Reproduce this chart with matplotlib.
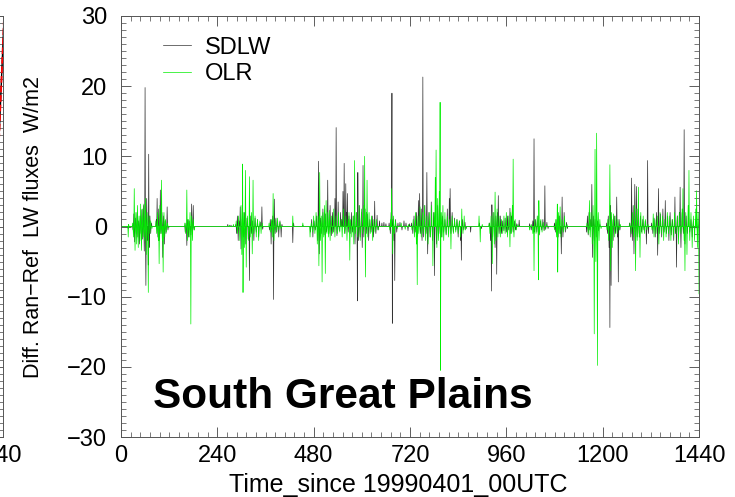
import numpy as np
import matplotlib
matplotlib.use("Agg")
import matplotlib.pyplot as plt
from matplotlib.ticker import MultipleLocator

plt.rcParams['font.family'] = ['Liberation Sans', 'DejaVu Sans']

# hourly series, zero outside the listed (hour, value) points
N_HOURS = 1440
X_TICKS = [0, 240, 480, 720, 960, 1200, 1440]
Y_TICKS = [-30, -20, -10, 0, 10, 20, 30]

SDLW_POINTS = [
    (18, -0.3),
    (30, -0.5), (32, 1.8), (34, -2.2), (36, 1.2), (38, -1.0), (40, 2.0), (42, -1.5), (44, 0.8),
    (46, -2.5), (48, 1.5), (50, -1.0), (52, 2.4), (54, -1.8), (56, 3.0), (58, -3.5), (60, 19.8),
    (61, -2.0), (62, -8.4), (64, 4.0), (66, -2.0), (68, -5.5), (69, 10.3), (70, -3.0), (72, 1.5),
    (74, -1.0), (76, 0.5),
    (88, 1.0), (90, 4.0), (92, -1.5), (94, 2.5), (96, -2.0), (98, 5.2), (100, -1.0), (102, 2.0),
    (104, -4.4), (106, 1.5), (108, -2.5), (110, 0.8), (112, -1.0), (115, 2.8), (117, -0.5),
    (160, -0.8), (162, 0.5), (164, -2.7), (166, 1.0), (168, -1.5), (170, 0.8), (172, -0.5),
    (174, -1.2), (176, 3.2), (178, -0.8), (180, 3.0), (182, -0.5),
    (266, 0.3), (274, 0.2), (286, 0.3),
    (288, -1.0), (290, 1.5), (292, -2.0), (294, 0.8), (297, 2.8), (299, -3.2), (302, 1.0),
    (305, -1.5), (308, 2.0), (311, -2.5), (314, 1.2), (317, -1.8), (320, -7.7), (322, 1.5),
    (325, -1.0), (328, 0.8), (331, -2.0), (334, 1.2), (337, -0.8), (340, 1.0), (343, -1.5),
    (347, 0.6), (351, 2.8), (353, -0.4),
    (370, -0.5), (372, 1.0), (374, -2.5), (376, 0.8), (378, 1.5), (380, -10.4), (382, 3.9),
    (384, -1.0), (386, 1.2), (388, -0.8), (390, 0.6), (393, -1.5), (396, 0.8), (399, -1.5),
    (401, 0.3),
    (428, -2.3), (430, 0.5), (453, 0.2),
    (472, -0.8), (475, 1.0), (478, -1.5), (481, 0.8), (484, -0.5), (487, 1.5), (490, -2.0),
    (492, 9.3), (494, -3.9), (497, 1.2), (500, -1.0), (503, 2.5), (506, -1.2), (509, 1.8),
    (512, -0.8), (515, 6.6), (518, -1.0), (521, 3.0), (524, -1.3), (527, 2.0), (530, -0.8),
    (533, 4.0), (536, 14.1), (538, -1.3), (541, 3.5), (544, -0.6), (547, 2.0), (550, 1.0),
    (553, 5.0), (556, 9.0), (558, -1.0), (560, 6.1), (562, 2.0), (564, 4.7), (566, -0.8),
    (568, 1.5), (571, -1.0), (574, 2.0), (577, -0.8), (580, 1.5), (583, -2.5), (586, 2.0),
    (589, -10.6), (590, 7.7), (592, -2.0), (594, 3.0), (596, -1.5), (599, 2.0), (601, -3.0),
    (603, 8.7), (605, -1.5), (608, 2.5), (611, -1.0), (614, 1.8), (617, -2.0), (620, 1.0),
    (623, -0.8), (626, 1.5), (629, -1.5), (632, 3.6), (635, -1.0), (638, 1.6), (641, -0.5),
    (644, 0.8), (650, 0.5), (655, 0.6), (660, 0.4),
    (668, 0.5), (671, -1.0), (673, 2.0), (675, 19.0), (676, -13.8), (678, 1.0), (680, -2.0),
    (682, -7.7), (684, 1.0), (687, -0.8), (690, 0.5),
    (695, 0.6), (700, -0.5), (705, 0.8), (710, 0.5), (715, -0.6), (719, 0.4),
    (724, 0.5), (727, -1.0), (730, 1.5), (733, -0.8), (736, 2.0), (739, -1.5), (741, 3.7),
    (744, 4.7), (746, -1.0), (748, 2.5), (750, -2.0), (752, 21.3), (754, -1.5), (757, 3.0),
    (760, -1.0), (762, 7.7), (764, -3.9), (767, 2.0), (770, -1.5), (773, 3.5), (776, -2.0),
    (779, 2.0), (781, -7.0), (783, 1.5), (786, -2.5), (789, 3.0), (792, -1.0), (795, 2.0),
    (798, -1.5), (801, 1.5), (804, -0.8), (807, 1.0), (810, -1.2), (813, 2.5), (816, -0.5),
    (818, 4.0), (820, 5.4), (822, -1.0), (825, 2.0), (828, -0.8), (831, 1.2), (834, -0.5),
    (837, 1.0), (840, -1.5), (843, 0.8), (846, -2.0), (848, -4.8), (851, 1.0), (854, -0.5),
    (857, 0.6), (860, -0.3),
    (871, -0.8), (893, 0.5), (898, -0.3),
    (918, 0.5), (921, -2.0), (923, -9.2), (924, 3.1), (926, -1.5), (929, 2.0), (932, -3.0),
    (934, 1.5), (936, -6.8), (938, 2.0), (940, 4.4), (942, -1.0), (945, 1.5), (948, -1.0),
    (951, 0.8), (954, -0.6), (957, 1.2), (960, -0.8), (963, 1.5), (966, -0.5), (969, 2.6),
    (971, -1.0), (973, 1.5), (975, 2.5), (977, -0.8), (980, 0.8), (983, -0.5), (986, 0.4),
    (992, 0.9),
    (1018, 0.4), (1022, -0.5), (1026, 0.8), (1029, 12.5), (1030, -0.8), (1033, 1.0),
    (1036, -0.8), (1039, 1.5), (1042, -1.2), (1045, 0.8), (1048, -0.5), (1051, 1.0),
    (1054, -0.6), (1056, 5.8), (1058, -0.4), (1061, 0.6), (1064, -0.3),
    (1080, 0.5), (1083, -0.8), (1086, 1.0), (1089, -1.5), (1092, 1.5), (1095, -1.0),
    (1097, -3.9), (1099, 4.2), (1101, -1.5), (1104, 2.0), (1107, -0.8), (1110, 0.6), (1112, -0.3),
    (1160, -0.8), (1162, 1.5), (1164, -1.2), (1166, 2.0), (1168, -0.5), (1170, 1.0), (1173, 6.0),
    (1175, -4.4), (1177, 1.5), (1179, -2.0), (1181, 1.0), (1184, -1.5), (1187, 0.8), (1190, -0.6),
    (1193, 0.3),
    (1210, 0.5), (1212, -1.0), (1214, 1.5), (1216, -3.0), (1218, -14.4), (1219, 3.0),
    (1221, -8.4), (1223, 1.0), (1226, -2.0), (1229, 1.5), (1232, -1.0), (1235, 4.2),
    (1237, -1.5), (1239, -7.9), (1241, 1.0), (1243, -0.5),
    (1267, 0.5), (1270, -1.5), (1272, 6.9), (1274, -2.0), (1276, 3.0), (1278, -3.9), (1280, 6.0),
    (1282, -1.0), (1284, 5.7), (1286, -1.5), (1288, 2.5), (1291, -1.0), (1294, 1.5), (1297, -0.8),
    (1300, 1.0), (1303, -0.5), (1306, 0.8), (1309, -2.5), (1312, 9.4), (1314, -1.0),
    (1322, 0.5), (1325, -1.0), (1328, 1.2), (1331, -1.5), (1334, 2.0), (1337, -4.1), (1339, 5.4),
    (1341, -1.0), (1344, 1.8), (1347, -1.5), (1350, 2.5), (1353, -0.8), (1356, 3.7), (1359, -1.0),
    (1362, 1.5), (1365, -2.0), (1368, 2.0), (1371, -1.2), (1374, 1.0), (1377, -2.0), (1380, 4.2),
    (1382, -1.0), (1384, -5.8), (1386, 1.5), (1389, -1.5), (1391, 2.0), (1393, 5.6), (1395, -3.0),
    (1398, 2.0), (1401, -1.0), (1403, 13.8), (1405, -2.5), (1408, 1.5), (1411, -1.0), (1414, 2.0),
    (1417, -0.8), (1420, 1.0), (1423, -1.5), (1426, 0.8), (1429, -0.5), (1432, 1.0), (1436, -0.6),
    (1440, 0.2),
]

OLR_POINTS = [
    (18, -1.5), (19, 0.3),
    (29, 0.5), (31, -1.5), (33, 5.4), (35, -3.4), (37, 2.0), (39, -2.5), (41, 3.0), (43, -3.0),
    (45, 1.5), (47, -2.0), (49, 3.2), (51, -3.4), (53, 2.5), (55, -1.5), (57, 3.2), (59, -2.0),
    (61, 4.0), (63, -4.0), (65, 2.0), (67, -1.5), (68, -9.4), (70, 1.5), (72, -1.0), (74, 0.8),
    (77, -0.3),
    (87, 0.8), (89, -1.0), (91, 2.0), (93, -2.0), (95, -5.3), (97, 3.0), (99, -1.0), (101, 6.6),
    (103, -2.0), (105, -6.5), (107, 2.0), (109, -1.5), (111, 1.0), (113, -0.8), (116, 0.5),
    (119, -0.2),
    (159, 0.5), (161, -1.0), (164, 5.2), (166, -2.0), (168, 1.0), (170, -1.5), (172, 2.0),
    (174, -13.9), (176, 1.5), (178, -2.0), (180, 1.0), (183, -0.5),
    (270, 0.2), (280, 0.3),
    (287, 0.8), (290, -1.0), (293, 1.5), (296, -2.0), (299, 3.0), (301, -4.0), (303, 8.9),
    (304, -9.4), (306, 2.0), (308, -3.0), (310, 8.0), (312, -5.8), (315, 1.5), (318, -2.0),
    (320, 7.1), (322, -1.5), (325, 2.0), (327, -3.9), (329, 6.6), (331, -1.0), (334, 1.5),
    (337, -1.5), (340, 1.0), (343, -2.0), (346, 0.8), (349, -1.0), (352, 0.5),
    (369, 0.5), (372, -0.8), (375, 1.0), (377, -1.5), (379, 4.7), (381, -2.0), (384, 1.0),
    (387, -0.8), (390, 1.2), (393, -0.5), (396, 0.6), (399, -0.3),
    (428, 1.5), (453, 0.5),
    (471, -1.5), (474, 0.5), (477, -0.8), (480, 1.5), (483, -1.0), (486, 2.0), (489, -2.5),
    (491, 1.5), (493, -5.6), (495, 7.7), (497, -2.0), (499, 1.5), (501, -7.9), (503, 2.0),
    (505, -1.5), (507, 3.0), (509, -6.7), (511, 3.7), (513, -1.0), (515, 2.0), (517, -1.5),
    (519, 2.3), (521, -2.0), (524, 1.5), (527, -1.0), (530, 2.5), (533, -1.5), (536, 1.5),
    (539, -1.0), (542, 2.0), (545, -0.8), (548, 1.0), (551, -1.5), (554, 2.5), (557, -1.0),
    (560, 1.5), (563, -2.0), (566, 1.0), (568, 2.0), (570, -4.8), (572, 1.0), (575, -1.5),
    (578, 1.5), (580, -2.5), (582, 9.4), (584, -1.0), (587, 2.0), (590, -1.5), (593, 3.0),
    (596, -2.0), (599, 2.5), (602, -1.0), (605, 3.0), (607, 10.0), (609, -7.2), (611, 2.0),
    (613, 6.6), (615, -1.5), (618, 2.0), (621, -1.0), (624, 1.5), (627, -2.0), (630, 1.0),
    (633, -0.8), (636, 1.0), (640, -0.5),
    (670, -0.5), (672, 1.0), (674, 5.4), (677, -3.9), (679, 1.5), (681, -1.0), (684, 0.8),
    (688, -0.3),
    (698, 0.5), (708, -0.4), (716, 0.3),
    (725, -0.5), (728, 1.0), (731, -1.5), (734, 2.0), (736, -2.5), (738, -8.3), (740, 1.5),
    (742, -1.0), (745, 2.8), (748, -1.5), (751, 2.0), (753, -1.0), (756, 3.0), (759, -2.0),
    (762, 1.5), (765, -2.5), (768, 2.0), (771, -1.5), (774, 3.0), (777, -5.6), (780, 2.0),
    (783, 7.0), (785, 10.9), (787, -3.0), (789, 4.0), (791, -2.0), (793, 5.0), (795, 17.7),
    (796, -20.5), (798, 2.0), (800, -1.5), (802, 3.0), (804, -2.0), (807, 2.0), (810, -1.0),
    (813, 1.5), (816, -1.5), (819, 1.0), (822, -3.2), (825, 1.5), (828, -1.0), (831, 1.0),
    (834, -0.8), (837, 1.0), (840, -1.0), (843, 0.8), (846, -1.5), (849, 2.5), (852, -1.0),
    (855, 1.5), (858, -0.5),
    (892, 1.5), (895, -2.2), (900, 0.3),
    (917, 0.5), (919, -1.0), (922, 1.5), (925, -5.3), (927, 2.0), (930, -2.5), (932, 4.9),
    (934, -2.0), (937, 2.5), (939, -1.5), (942, 1.5), (945, -1.5), (948, 1.0), (951, -1.0),
    (954, 1.5), (957, -1.0), (960, 2.0), (963, -1.5), (966, 1.5), (969, -2.9), (971, 2.0),
    (973, -1.0), (975, 3.0), (977, 9.6), (979, -1.5), (982, 1.0), (985, -0.5), (989, 0.3),
    (1018, -0.5), (1022, 0.3), (1026, -1.0), (1029, -6.3), (1031, 1.0), (1034, -1.0),
    (1037, 1.5), (1040, -7.6), (1041, 3.7), (1043, -1.0), (1046, 1.0), (1049, -0.8),
    (1052, 0.6), (1056, -0.5), (1060, 0.3),
    (1080, -0.5), (1083, 1.0), (1085, -1.5), (1087, 3.2), (1088, -6.5), (1090, 2.0),
    (1092, -1.0), (1094, 2.8), (1096, -1.5), (1099, 1.0), (1102, -0.8), (1105, 1.5),
    (1108, -0.5), (1111, 0.3),
    (1161, 0.5), (1164, -1.0), (1167, 3.7), (1169, -1.5), (1171, 2.0), (1174, -2.5), (1176, 3.0),
    (1179, -15.3), (1181, 11.0), (1183, -5.0), (1185, 13.3), (1187, -19.8), (1189, 2.0),
    (1191, -2.0), (1193, 1.0), (1196, -0.3),
    (1211, -0.5), (1213, 1.0), (1215, -2.0), (1217, 2.0), (1218, 8.8), (1220, -6.3), (1222, 2.0),
    (1224, -3.0), (1227, 1.8), (1230, -1.5), (1233, 1.5), (1236, -1.0), (1238, 1.0), (1241, -0.5),
    (1244, 0.3),
    (1268, 0.5), (1271, -1.0), (1274, 2.0), (1277, -1.5), (1279, 3.0), (1282, -6.3), (1284, 2.5),
    (1286, -2.0), (1289, 5.6), (1291, -1.5), (1293, -4.4), (1295, 2.0), (1298, -1.0), (1301, 1.5),
    (1304, -1.0), (1307, 1.0), (1310, -0.5), (1313, 0.3),
    (1323, -0.5), (1326, 1.8), (1328, -1.5), (1330, 1.0), (1333, -1.0), (1336, 1.5), (1340, -2.5),
    (1343, 2.0), (1346, -1.0), (1349, 1.5), (1352, -2.0), (1355, 1.0), (1358, -1.5), (1361, 2.0),
    (1364, -1.0), (1367, 1.5), (1370, -2.0), (1373, 1.0), (1376, -1.5), (1379, 2.0), (1383, -1.0),
    (1386, 1.5), (1389, -2.5), (1392, 2.0), (1395, -1.0), (1398, 2.5), (1400, 5.4), (1403, -2.0),
    (1405, -6.3), (1407, 2.0), (1410, -4.0), (1413, 3.0), (1415, 8.0), (1417, -2.0), (1420, 2.0),
    (1423, -3.0), (1426, 1.5), (1429, -2.0), (1432, 2.5), (1434, 5.1), (1436, -3.0), (1438, 2.0),
    (1440, -9.6),
]

# edge of the neighbouring panel on the left
LEFT_HOURS = [1446, 1462]
LEFT_VALS = [8.0, 30.0]


def build_series(points):
    s = np.zeros(N_HOURS + 1)
    for h, v in points:
        s[h] = v
    return s


hours = np.arange(N_HOURS + 1)
sdlw = build_series(SDLW_POINTS)
olr = build_series(OLR_POINTS)

W, H = 735, 497
fig = plt.figure(figsize=(W / 100, H / 100), dpi=100)


def style_axes(a):
    a.set_ylim(-30, 30)
    a.yaxis.set_major_locator(MultipleLocator(10))
    a.yaxis.set_minor_locator(MultipleLocator(1))
    a.tick_params(which='both', direction='in', top=True, right=True,
                  labelsize=17, color='#444444')
    a.tick_params(which='major', length=7, width=0.6)
    a.tick_params(which='minor', length=3.5, width=0.5)
    a.tick_params(axis='y', pad=10)
    a.tick_params(axis='x', pad=6)
    for sp in a.spines.values():
        sp.set_linewidth(0.7)
        sp.set_color('#555555')


# neighbouring panel, mostly off the figure
ax0 = fig.add_axes([(3.3 - 578) / W, 60 / H, 578 / W, 421 / H])
style_axes(ax0)
ax0.set_xlim(0, 1460)
ax0.set_xticks([1440])
ax0.xaxis.set_minor_locator(MultipleLocator(24))
ax0.set_yticklabels([])
ax0.plot(LEFT_HOURS, LEFT_VALS, color='black', lw=1.0)
ax0.plot(LEFT_HOURS, LEFT_VALS, color='red', lw=1.3, ls='--')

ax = fig.add_axes([121 / W, 60 / H, 578 / W, 421 / H])
style_axes(ax)
ax.plot(hours, sdlw, color='#333333', lw=0.5, label='SDLW')
ax.plot(hours, olr, color='#00ee00', lw=0.5, label='OLR')
ax.set_xlim(0, N_HOURS)
ax.set_xticks(X_TICKS)
ax.set_yticks(Y_TICKS)
ax.xaxis.set_minor_locator(MultipleLocator(24))

ax.set_xlabel('Time_since 19990401_00UTC', fontsize=18)
ax.xaxis.set_label_coords(0.479, -0.085)
ax.set_ylabel('Diff. Ran\u2212Ref  LW fluxes  W/m2', fontsize=15.5)
ax.yaxis.set_label_coords((44 - 121) / 578, 0.5)

ax.text(0.0554, 0.0689, 'South Great Plains', transform=ax.transAxes,
        fontsize=30.5, fontweight='bold', va='baseline')

ax.legend(loc='upper left', bbox_to_anchor=(0.072, 0.951), frameon=False,
          fontsize=17, handlelength=1.2, handletextpad=0.6, labelspacing=0.2,
          borderpad=0, borderaxespad=0)

fig.savefig('out.png', dpi=100)
